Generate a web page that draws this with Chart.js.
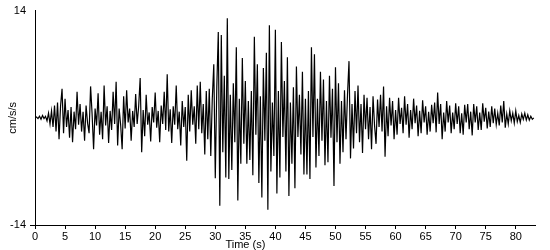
<!DOCTYPE html>
<html>
<head>
<meta charset="utf-8">
<script src="https://cdn.jsdelivr.net/npm/chart.js@4.4.1/dist/chart.umd.min.js"></script>
<style>
  body { margin: 0; background: #fff; }
  #wrap { width: 550px; height: 250px; position: relative; }
</style>
</head>
<body>
<div id="wrap"><canvas id="mycanvas"></canvas></div>
<script>
// sample spacing of the record (s)
var dt = 0.25;

// acceleration values (cm/s/s), one every dt
var preEvent = [0, 0.1, -0.1, 0.2, -0.2, 0.3, -0.1, 0.2, -0.4, 0.6, -0.8, 0.9,
  -1.2, 1.6, -1.8, 2.0, -2.8, 1.5, 3.8, -2.0];

var buildUp = [
  2.5, -1.2, 1.0, -2.6,   1.4, -3.2, 0.8, -1.5,   3.4, -0.9, 1.8, -1.8,
  0.8, -3.0, 1.6, -0.7,   -2.0, 4.1, 0.5, -4.1,   1.2, -1.0, 3.2, -2.2,
  0.8, -2.8, 4.2, -1.0,   1.5, -3.3, 0.9, -1.6,   3.4, -0.8, 4.7, -3.6,
  1.2, -0.9, -4.1, 2.8,   -1.4, 3.6, -0.6, 1.2,   -3.0, 0.9, -1.2, 3.1,
  -0.8, 1.5, 5.2, -4.5,   1.0, -2.4, 3.0, -0.9,   0.7, -3.1, 1.4, -0.6,
  3.3, -1.3, 0.9, -3.2,   1.6, -0.8, 3.4, -1.6,   5.7, -1.8, 1.1, -3.3,
  1.5, -0.9, 4.2, -1.5,   0.8, -3.6, 2.2, -1.2,   1.4, -5.6, 3.0, -1.8,
  3.6, -0.9, 1.5, -3.4,   4.2, -1.5, 4.7, -2.0,   1.8, -4.8, 3.5, -2.8];

var strongMotion = [
  3.8, -5.0, 2.5, 7.0,    -7.9, 4.0, 11.2, -11.5, 10.8, -4.5, 5.5, -7.8,
  13.0, -8.0, 3.0, -6.8,  4.5, -3.2, 9.2, -10.8,  2.5, -6.0, 7.8, -3.4,
  4.8, -6.0, 2.2, -5.5,   3.5, -7.5, 10.6, -2.2,  7.0, -8.5, 2.8, -10.4,
  6.5, -3.0, 8.5, -12.0,  12.1, -7.0, 2.0, -5.0,  11.5, -9.9, 3.5, -7.8,
  9.9, -2.5, 4.8, -7.0,   7.9, -10.2, 2.0, -6.0,  4.0, -9.2, 6.7, -2.5,
  3.0, -4.8, 6.0, -7.4,   2.5, -7.4, 3.5, -8.0,   9.2, -2.5, 8.3, -6.5,
  2.5, -5.0, 6.0, -3.0,   5.0, -6.2, 2.2, -5.8,   5.5, -2.6, 3.8, -8.9,
  6.6, -3.2, 4.5, -6.0,   2.2, -4.5, 3.6, -2.8,   3.0, 7.4, -5.3, 1.8,
  -4.0, 3.5, -2.0, 4.2,   -3.2, 1.8, -4.6, 3.0,   -1.5, 2.6, -2.8, 1.4,
  -4.1, 2.8, -1.0, -3.4];

var coda = [
  2.4, -1.2, 3.0, -1.8,   4.1, -5.1, 1.5, -2.4,   2.6, -1.0, 2.2, -2.8,
  1.0, -2.2, 2.6, -0.8,   1.3, -2.0, 2.8, -0.9,   1.8, -2.6, 1.0, -1.5,
  2.5, -0.7, 1.6, -2.4,   0.9, -2.0, 2.3, -0.6,   1.5, -2.2, 0.8, -1.8,
  1.7, -0.7, 2.0, -1.9,   3.3, -0.8, 1.8, -2.8,   0.7, -1.8, 2.2, -0.6,
  1.6, -2.0, 0.7, -1.5,   1.9, -0.8, 1.5, -2.0,   0.6, -2.2, 1.7, -0.6,
  1.8, -1.5, 0.8, -2.3,   1.8, -0.6, 1.5, -1.6,   0.7, -1.6, 1.9, -0.5,
  1.3, -1.4, 0.8, -1.2,   1.5, -0.7, 1.2, -0.9,   0.6, -1.0, 1.6, -0.6,
  2.2, -1.3, 0.5, -0.8,   0.9, -0.4, 0.6, -0.7,   0.9, -0.5, 0.3, -0.6,
  0.5, -0.2, 0.6, -0.3,   0.4, -0.3, 0.2, -0.2,   0.0];

var xTickLabels = [0, 5, 10, 15, 20, 25, 30, 35, 40, 45, 50, 55, 60, 65, 70, 75, 80];
var yTickLabels = [-14, 14];

var accel = preEvent.concat(buildUp, strongMotion, coda);
var points = [];
for (var i = 0; i < accel.length; i++) {
  points.push({ x: i * dt, y: accel[i] });
}

var font = { family: "'Liberation Sans', Arial, sans-serif", size: 11 };

// x title sits left of centre in the original, so draw it by hand
var xTitle = {
  id: 'xTitle',
  afterDraw: function(chart) {
    var c = chart.ctx;
    c.save();
    c.font = "11px 'Liberation Sans', Arial, sans-serif";
    c.fillStyle = '#000';
    c.textAlign = 'center';
    c.textBaseline = 'middle';
    c.fillText('Time (s)', chart.scales.x.getPixelForValue(35), 245);
    c.restore();
  }
};

var ctx = document.getElementById('mycanvas');
var LineGraph = new Chart(ctx, {
  type: 'line',
  data: {
    datasets: [{
      data: points,
      borderColor: '#000',
      borderWidth: 1.2,
      pointRadius: 0,
      tension: 0,
      fill: false
    }]
  },
  options: {
    responsive: true,
    maintainAspectRatio: false,
    animation: false,
    events: [],
    layout: { padding: { top: 5, right: 15, left: 0, bottom: 0 } },
    plugins: { legend: { display: false }, tooltip: { enabled: false } },
    scales: {
      x: {
        type: 'linear',
        min: 0,
        max: 83.2,
        afterFit: function(s) { s.height = 25; },
        afterBuildTicks: function(s) {
          s.ticks = xTickLabels.map(function(v) { return { value: v }; });
        },
        grid: { drawOnChartArea: false, drawTicks: true, tickLength: 4, color: '#000' },
        border: { display: true, color: '#000', width: 1 },
        ticks: { color: '#000', font: font, padding: 1, maxRotation: 0, autoSkip: false }
      },
      y: {
        min: -14,
        max: 14,
        afterFit: function(s) { s.width = 35; },
        afterBuildTicks: function(s) {
          s.ticks = yTickLabels.map(function(v) { return { value: v }; });
        },
        grid: {
          drawOnChartArea: false,
          drawTicks: true,
          tickLength: 5,
          color: function(c) { return c.tick && c.tick.value === -14 ? '#000' : 'rgba(0,0,0,0)'; }
        },
        border: { display: true, color: '#000', width: 1 },
        ticks: { color: '#000', font: font, padding: 4 },
        title: { display: true, text: 'cm/s/s', color: '#000', font: font, padding: { top: 6, bottom: 0 } }
      }
    }
  },
  plugins: [xTitle]
});
</script>
</body>
</html>
